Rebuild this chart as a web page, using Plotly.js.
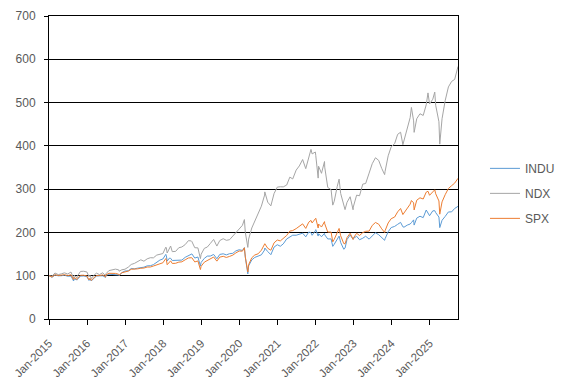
<!DOCTYPE html>
<html>
<head>
<meta charset="utf-8">
<script src="https://cdn.plot.ly/plotly-3.0.1.min.js"></script>
<style>html,body{margin:0;padding:0;background:#fff;}#chart{width:567px;height:383px;}</style>
</head>
<body>
<div id="chart"></div>
<script>
const seriesNames = ["INDU", "NDX", "SPX"];
const dates = [
"2015-01-02","2015-01-30","2015-02-27","2015-03-31","2015-04-30","2015-05-29","2015-06-30","2015-07-31","2015-08-25","2015-08-31",
"2015-09-28","2015-09-30","2015-10-30","2015-11-30","2015-12-31","2016-01-20","2016-01-29","2016-02-11","2016-02-29","2016-03-31",
"2016-04-29","2016-05-31","2016-06-27","2016-06-30","2016-07-29","2016-08-31","2016-09-30","2016-10-31","2016-11-04","2016-11-30",
"2016-12-30","2017-01-31","2017-02-28","2017-03-31","2017-04-28","2017-05-31","2017-06-30","2017-07-31","2017-08-31","2017-09-29",
"2017-10-31","2017-11-30","2017-12-29","2018-01-26","2018-01-31","2018-02-08","2018-02-28","2018-03-13","2018-03-29","2018-04-30",
"2018-05-31","2018-06-29","2018-07-31","2018-08-31","2018-09-28","2018-10-03","2018-10-31","2018-11-30","2018-12-24","2018-12-31",
"2019-01-31","2019-02-28","2019-03-29","2019-04-30","2019-05-31","2019-06-28","2019-07-31","2019-08-30","2019-09-30","2019-10-31",
"2019-11-29","2019-12-31","2020-01-31","2020-02-19","2020-02-28","2020-03-23","2020-03-31","2020-04-30","2020-05-29","2020-06-30",
"2020-07-31","2020-08-31","2020-09-02","2020-09-30","2020-10-30","2020-11-30","2020-12-31","2021-01-29","2021-02-26","2021-03-31",
"2021-04-30","2021-05-28","2021-06-30","2021-07-30","2021-08-31","2021-09-30","2021-10-29","2021-11-19","2021-11-30","2021-12-31",
"2022-01-04","2022-01-27","2022-01-31","2022-02-28","2022-03-29","2022-03-31","2022-04-29","2022-05-31","2022-06-16","2022-06-30",
"2022-07-29","2022-08-16","2022-08-31","2022-09-30","2022-10-12","2022-10-31","2022-11-30","2022-12-28","2022-12-30","2023-01-31",
"2023-02-28","2023-03-31","2023-04-28","2023-05-31","2023-06-30","2023-07-31","2023-08-31","2023-09-29","2023-10-27","2023-10-31",
"2023-11-30","2023-12-29","2024-01-31","2024-02-29","2024-03-28","2024-04-19","2024-04-30","2024-05-31","2024-06-28","2024-07-10",
"2024-07-31","2024-08-05","2024-08-30","2024-09-30","2024-10-31","2024-11-29","2024-12-16","2024-12-31","2025-01-31","2025-02-19",
"2025-02-28","2025-03-31","2025-04-08","2025-04-30","2025-05-30","2025-06-30","2025-07-31","2025-08-29","2025-09-30"
];
const indu = [
100.0,96.3,101.7,99.7,100.0,101.0,98.8,99.2,87.8,92.7,
90.3,91.3,99.1,99.4,97.7,88.9,92.3,87.8,92.6,99.2,
99.7,99.7,96.1,100.5,103.4,103.2,102.7,101.7,100.0,107.2,
110.8,111.4,116.7,115.9,117.4,117.8,119.7,122.8,123.1,125.6,
131.1,136.1,138.6,149.3,146.6,133.8,140.4,140.2,135.2,135.5,
136.9,136.1,142.5,145.6,148.4,150.4,140.8,143.2,122.2,130.8,
140.2,145.3,145.4,149.1,139.2,149.2,150.6,148.1,150.9,151.7,
157.3,160.0,158.4,164.9,142.5,104.3,122.9,136.5,142.3,144.7,
148.2,159.4,164.0,155.8,148.6,166.2,171.6,168.1,173.5,184.9,
190.0,193.6,193.5,195.9,198.3,189.8,200.9,199.6,193.4,203.8,
206.4,191.6,197.0,190.1,197.9,194.5,184.9,185.0,167.8,172.6,
184.2,191.5,176.7,161.1,163.8,183.6,194.0,184.3,185.9,191.1,
183.1,186.6,191.2,184.5,192.9,199.4,194.7,187.9,181.8,185.3,
201.6,211.3,213.9,218.7,223.2,213.0,212.1,216.9,219.4,222.7,
229.0,217.0,233.1,237.4,234.2,251.8,245.1,238.6,249.8,250.3,
245.8,235.5,211.1,228.1,237.0,247.3,247.5,255.4,260.2
];
const ndx = [
100.0,99.0,106.3,102.5,104.4,106.6,103.9,108.5,93.8,101.0,
95.0,98.9,109.9,110.3,108.6,97.5,101.2,93.3,99.3,106.0,
102.6,106.9,99.3,104.4,111.8,112.8,115.2,113.5,110.4,113.7,
115.0,119.9,126.0,128.5,132.0,136.8,133.5,139.0,141.6,141.3,
147.7,149.8,151.2,166.0,164.3,152.5,162.1,168.6,155.6,156.2,
164.7,166.4,171.9,181.0,180.3,179.0,164.7,164.3,139.5,149.6,
163.3,166.2,174.4,183.9,168.5,181.3,185.5,181.8,183.2,191.1,
198.6,206.4,216.3,229.7,200.0,165.4,184.7,210.2,225.9,240.1,
260.6,286.3,293.6,269.9,261.3,290.0,304.7,305.5,305.2,309.5,
327.7,323.6,344.0,353.6,368.4,347.3,374.7,391.8,381.4,385.8,
378.0,325.5,352.9,336.6,363.8,350.8,303.9,298.9,263.1,271.9,
306.1,323.1,290.1,259.4,252.7,269.6,282.5,252.4,258.6,286.1,
284.7,311.6,313.1,337.0,358.8,372.5,366.4,347.9,333.6,340.6,
377.0,397.8,405.1,426.6,431.5,402.7,412.3,438.2,465.3,488.8,
457.7,431.2,462.7,474.2,470.2,494.8,522.3,496.7,507.7,524.2,
493.7,455.7,404.0,462.7,504.5,536.1,548.9,553.5,583.4
];
const spx = [
100.0,96.9,102.3,100.5,101.3,102.4,100.2,102.2,90.8,95.8,
91.4,93.3,101.0,101.1,99.3,90.3,94.3,88.9,93.9,100.1,
100.3,101.9,97.2,102.0,105.6,105.5,105.3,103.3,101.3,106.8,
108.8,110.7,114.9,114.8,115.8,117.2,117.7,120.0,120.1,122.4,
125.1,128.7,129.9,139.6,137.2,125.4,131.9,134.3,128.3,128.7,
131.4,132.1,136.8,141.0,141.6,141.5,131.8,134.1,114.2,121.8,
131.4,135.3,137.7,143.1,133.7,142.9,144.8,142.2,144.6,147.6,
152.6,157.0,156.7,164.5,143.5,108.7,125.6,141.5,147.9,150.6,
158.9,170.1,173.9,163.4,158.9,176.0,182.5,180.4,185.2,193.0,
203.1,204.3,208.8,213.5,219.8,209.3,223.7,227.8,221.9,231.6,
232.9,210.2,219.4,212.5,225.0,220.1,200.8,200.8,178.2,183.9,
200.7,209.2,192.2,174.2,173.8,188.1,198.2,183.8,186.6,198.1,
192.9,199.6,202.6,203.1,216.2,223.0,219.0,208.3,200.0,203.8,
221.9,231.8,235.5,247.6,255.3,241.3,244.7,256.4,265.3,273.7,
268.3,252.0,274.4,280.0,277.2,293.1,295.1,285.8,293.5,298.5,
289.3,272.7,242.1,270.6,287.2,301.5,308.0,313.9,325.0
];
const seriesValues = [indu, ndx, spx];
const seriesColors = ["#5B9BD5", "#A5A5A5", "#ED7D31"];

const font = {family: "Liberation Sans, Arial, sans-serif", size: 12, color: "#595959"};
const xfont = {family: "Liberation Sans, Arial, sans-serif", size: 11.5, color: "#595959"};
const traces = seriesNames.map((n, i) => ({
  type: "scatter", mode: "lines", name: n, x: dates, y: seriesValues[i],
  legendgroup: n, line: {color: seriesColors[i], width: 1}
}));

const layout = {
  width: 567, height: 383,
  margin: {l: 49, r: 109, t: 16, b: 64, pad: 0, autoexpand: false},
  paper_bgcolor: "#fff", plot_bgcolor: "#fff",
  font: font,
  showlegend: true,
  legend: {x: 1.066, xanchor: "left", y: 0.545, yanchor: "top", font: font, tracegroupgap: 6, bgcolor: "rgba(0,0,0,0)"},
  xaxis: {
    type: "date", range: ["2015-01-01", "2025-09-30"],
    tick0: "2015-01-01", dtick: "M12", tickformat: "%b-%Y", tickangle: -45,
    ticks: "outside", ticklen: 5, tickcolor: "#000", tickwidth: 1, ticklabelstandoff: 7,
    showline: true, linecolor: "#000", linewidth: 1, mirror: true, showgrid: false, zeroline: false,
    tickfont: xfont
  },
  yaxis: {
    range: [0, 700], dtick: 100, tick0: 0,
    ticks: "outside", ticklen: 4, tickcolor: "#000", tickwidth: 1, ticklabelstandoff: 6,
    showline: true, linecolor: "#000", linewidth: 1, mirror: true,
    showgrid: true, gridcolor: "#000", gridwidth: 1, zeroline: false,
    tickfont: font
  }
};
Plotly.newPlot("chart", traces, layout, {displayModeBar: false, staticPlot: true});
</script>
</body>
</html>
